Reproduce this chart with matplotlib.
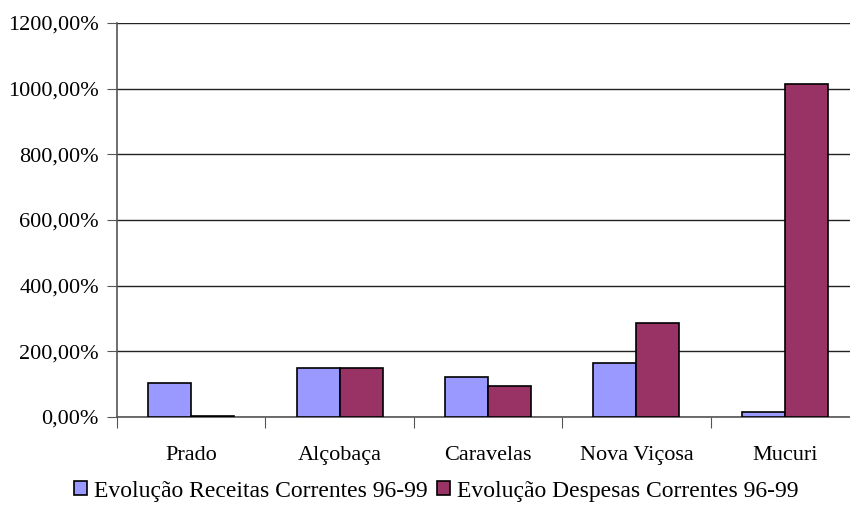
import numpy as np
import matplotlib
matplotlib.use('Agg')
import matplotlib.pyplot as plt
from matplotlib.ticker import FuncFormatter, FixedLocator

cidades = ['Prado', 'Alçobaça', 'Caravelas', 'Nova Viçosa', 'Mucuri']
receitas = [103, 150, 123, 165, 15]
despesas = [4, 150, 94, 285, 1015]
nomes = ['Evolução Receitas Correntes 96-99', 'Evolução Despesas Correntes 96-99']

plt.rcParams['font.family'] = ['Liberation Serif', 'DejaVu Serif']

fig = plt.figure(figsize=(8.5, 5.28), dpi=100)
ax = fig.add_axes([0.1376, 0.2102, 0.873, 0.7462])

# largura de cada barra
barWidth = 0.29
x = np.arange(len(cidades))
ax.bar(x - barWidth / 2, receitas, width=barWidth, color='#9999FF',
       edgecolor='black', linewidth=1.2, label=nomes[0], zorder=3)
ax.bar(x + barWidth / 2, despesas, width=barWidth, color='#993366',
       edgecolor='black', linewidth=1.2, label=nomes[1], zorder=3)

ax.set_xlim(-0.5, len(cidades) - 0.5)
ax.set_ylim(0, 1200)
ax.set_yticks(np.arange(0, 1201, 200))
ax.yaxis.set_major_formatter(FuncFormatter(lambda v, p: f'{v:.2f}'.replace('.', ',') + '%'))
ax.grid(axis='y', color='#222222', linewidth=1.0, zorder=0)

# ticks entre categorias, rotulos no centro
ax.xaxis.set_major_locator(FixedLocator(np.arange(-0.5, len(cidades), 1.0)))
ax.xaxis.set_major_formatter(FuncFormatter(lambda v, p: ''))
ax.xaxis.set_minor_locator(FixedLocator(x))
ax.set_xticklabels(cidades, minor=True)
ax.tick_params(axis='x', which='major', direction='out', length=8, color='#555555')
ax.tick_params(axis='x', which='minor', length=0, pad=21, labelsize=16)
ax.tick_params(axis='y', direction='out', length=7, color='#555555', labelsize=16, pad=6)

for s in ['top', 'right']:
    ax.spines[s].set_visible(False)
for s in ['left', 'bottom']:
    ax.spines[s].set_color('#555555')
    ax.spines[s].set_linewidth(1.2)

fig.legend(loc='center', bbox_to_anchor=(0.513, 0.07), ncol=2, frameon=False,
           fontsize=17, handlelength=0.55, handleheight=0.55, handletextpad=0.3,
           columnspacing=0.4)

fig.savefig('out.png', dpi=100)
